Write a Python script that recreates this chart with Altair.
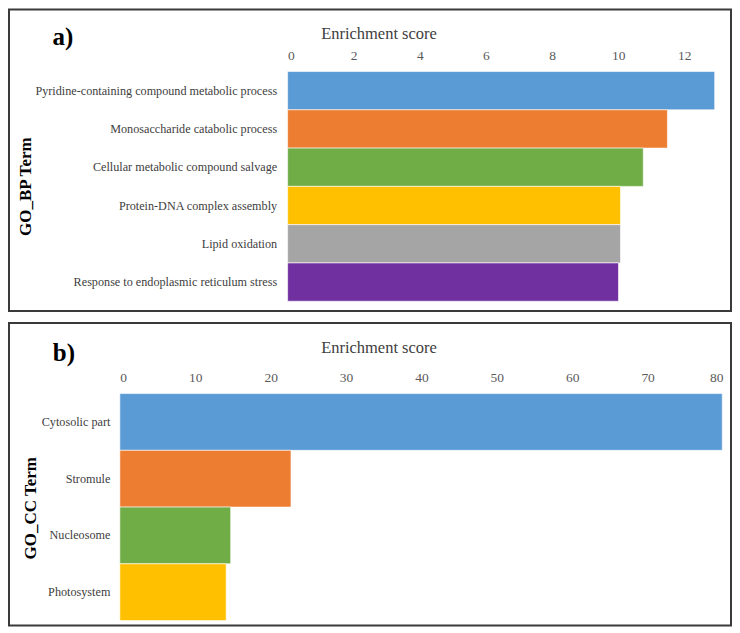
import altair as alt
import pandas as pd

bp_terms = [
    "Pyridine-containing compound metabolic process",
    "Monosaccharide catabolic process",
    "Cellular metabolic compound salvage",
    "Protein-DNA complex assembly",
    "Lipid oxidation",
    "Response to endoplasmic reticulum stress",
]
bp_scores = [12.92, 11.49, 10.76, 10.07, 10.07, 10.01]
bp_ticks = [0, 2, 4, 6, 8, 10, 12]

cc_terms = ["Cytosolic part", "Stromule", "Nucleosome", "Photosystem"]
cc_scores = [79.9, 22.7, 14.7, 14.1]
cc_ticks = [0, 10, 20, 30, 40, 50, 60, 70, 80]

palette = ["#5B9BD5", "#ED7D31", "#70AD47", "#FFC000", "#A5A5A5", "#7030A0"]

FONT = "Liberation Serif"
W = 723


def panel(letter, terms, scores, ticks, xdom, xrange, yrange, height,
          axis_y, title_y, ytitle, ytitle_x, ytitle_y, ylabel_pad, letter_xy):
    df = pd.DataFrame({"term": terms, "score": scores})
    bars = alt.Chart(df).mark_bar(stroke="white", strokeWidth=0.6).encode(
        x=alt.X(
            "score:Q",
            scale=alt.Scale(domain=xdom, range=xrange, nice=False, zero=True),
            axis=alt.Axis(
                orient="top", values=ticks, grid=False, domain=False, ticks=False,
                offset=-axis_y, labelPadding=0, labelBaseline="middle",
                labelFont=FONT, labelFontSize=13.5,
                labelColor="#595959", title="Enrichment score", titleFont=FONT,
                titleFontSize=16.5, titleFontWeight="normal", titleColor="#404040",
                titleX=370, titleY=title_y - axis_y, titleBaseline="middle",
                titleAlign="center", titleAnchor="middle",
            ),
        ),
        y=alt.Y(
            "term:N", sort=terms,
            scale=alt.Scale(range=yrange, paddingInner=0, paddingOuter=0),
            axis=alt.Axis(
                orient="left", domain=False, ticks=False, offset=-xrange[0],
                labelPadding=ylabel_pad, labelFont=FONT, labelFontSize=12.2,
                labelColor="#404040", labelLimit=400, title=ytitle,
                titleFont=FONT, titleFontSize=17, titleFontWeight="bold",
                titleColor="#000000", titleAngle=-90, titleBaseline="middle",
                titleAlign="center", titleX=ytitle_x - xrange[0], titleY=ytitle_y,
            ),
        ),
        color=alt.Color("term:N", scale=alt.Scale(domain=terms, range=palette[:len(terms)]),
                        legend=None),
    )
    lab = alt.Chart(pd.DataFrame({"t": [letter]})).mark_text(
        font=FONT, fontSize=25, fontWeight="bold", color="#000000",
        align="center", baseline="middle",
    ).encode(text="t:N", x=alt.value(letter_xy[0]), y=alt.value(letter_xy[1]))
    return alt.layer(bars, lab).properties(width=W, height=height)


a = panel("a)", bp_terms, bp_scores, bp_ticks, [0, 13], [279, 279 + 13 * 33.1],
          [62.2, 292.2], 302, 46.5, 24, "GO_BP Term", 17, 177, 11, (54, 28))
b = panel("b)", cc_terms, cc_scores, cc_ticks, [0, 80], [111, 715],
          [70.7, 298], 303, 54.7, 25, "GO_CC Term", 22, 185, 10, (55, 30))

chart = alt.vconcat(a, b, spacing=10).properties(padding=0).configure_view(
    stroke="#3a3a3a", strokeWidth=2
)

chart.save("out.html", embed_options={"renderer": "svg", "actions": False})
